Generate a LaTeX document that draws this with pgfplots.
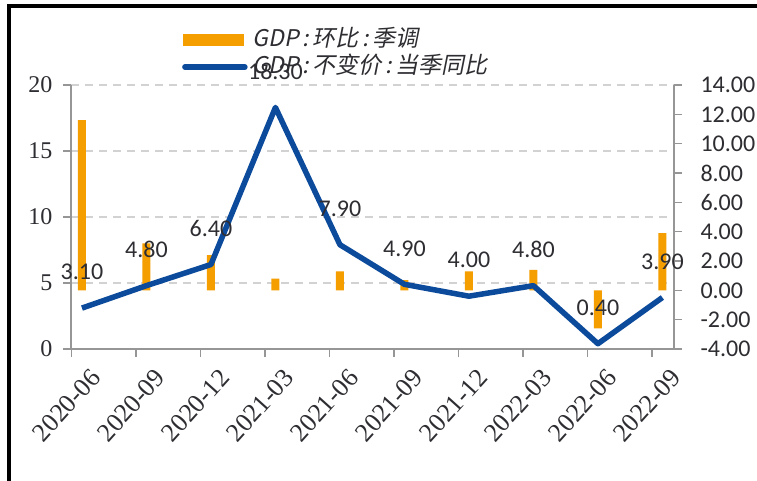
\documentclass[border=0pt]{standalone}
\usepackage{pgfplots}
\pgfplotsset{compat=1.18}
\usepackage{fontspec}
\setmainfont{Liberation Serif}
\newfontfamily\calibri{Carlito}
\newfontfamily\cjk[FakeSlant=0.2]{Noto Sans CJK SC}
\definecolor{barorange}{RGB}{245,158,0}
\definecolor{lineblue}{RGB}{12,74,156}
\definecolor{axgray}{RGB}{150,150,150}
\definecolor{gridgray}{RGB}{210,210,210}
\definecolor{txt}{RGB}{45,45,50}
\pgfplotsset{
  base/.style={at={(71bp,132bp)}, anchor=south west, scale only axis,
    width=603bp, height=264bp, xmin=-0.17, xmax=9.18,
    /pgf/number format/assume math mode=true},
}
\begin{document}
\begin{tikzpicture}
\useasboundingbox (0,0) rectangle (757bp,481bp);
\fill[white] (0,0) rectangle (757bp,481bp);
\draw[line width=3.5bp, black] (9bp,0) -- (9bp,475bp) -- (757bp,475bp);

% left-scale frame: grid, left axis, x axis
\begin{axis}[base, ymin=0, ymax=20,
  axis x line*=bottom, axis y line*=left,
  axis line style={axgray, line width=1.5bp, -},
  tick align=outside, major tick length=8bp, minor tick length=8bp,
  ytick={0,5,10,15,20},
  ytick style={axgray, line width=1.5bp},
  ymajorgrids, grid style={gridgray, line width=1.8bp, dash pattern=on 8bp off 6bp},
  xtick={0,...,9},
  xticklabels={2020-06,2020-09,2020-12,2021-03,2021-06,2021-09,2021-12,2022-03,2022-06,2022-09},
  major x tick style={draw=none},
  minor xtick={-0.16,0.84,1.84,2.84,3.84,4.84,5.84,6.84,7.84,8.84},
  minor x tick style={axgray, line width=1.5bp},
  xticklabel style={font=\fontsize{26bp}{30bp}\selectfont, text=txt, inner sep=0pt,
     xshift=7bp, yshift=-10bp, rotate=48, anchor=north east},
  yticklabel style={font=\fontsize{24bp}{28bp}\selectfont, text=txt, xshift=-7bp},
]
\end{axis}

% bars on the right scale
\begin{axis}[base, ymin=-4, ymax=14,
  axis x line=none, axis y line*=right,
  axis line style={axgray, line width=1.5bp, -},
  tick align=outside, major tick length=8bp,
  ytick={-4,-2,...,14},
  ytick style={axgray, line width=1.5bp},
  yticklabel style={font=\calibri\fontsize{24bp}{28bp}\selectfont, text=txt, xshift=15bp,
     /pgf/number format/.cd, fixed, fixed zerofill, precision=2},
]
\addplot[ybar, bar width=8bp, fill=barorange, draw=none] coordinates {
  (0,11.6) (1,3.2) (2,2.4) (3,0.8) (4,1.3) (5,0.7) (6,1.3) (7,1.4) (8,-2.6) (9,3.9)};
\end{axis}

% line on the left scale
\begin{axis}[base, ymin=0, ymax=20, hide axis, clip=false,
  legend style={at={(0.184,1.222)}, anchor=north west, draw=none, fill=none,
     inner sep=0pt, row sep=0pt,
     font=\cjk\fontsize{23bp}{26bp}\selectfont, text=txt,
     nodes={inner sep=1bp, text height=19bp, text depth=6bp},
     /tikz/every odd column/.append style={column sep=4bp}},
  legend cell align=left,
]
\addlegendimage{legend image code/.code={\fill[barorange] (0bp,-5.5bp) rectangle (60bp,5.5bp);}}
\addlegendentry{GDP\,:\,环比\,:\,季调}
\addplot[lineblue, line width=5.5bp, line join=round,
  legend image code/.code={\draw[lineblue, line width=5.5bp, line cap=round] (2bp,0bp) -- (62bp,0bp);},
  nodes near coords={\pgfmathprintnumber[fixed, fixed zerofill, precision=2]{\pgfplotspointmeta}},
  point meta=explicit symbolic,
  nodes near coords style={font=\calibri\fontsize{24bp}{28bp}\selectfont, text=txt, anchor=center, yshift=36bp},
] coordinates {
  (0,3.1) [3.1] (1,4.8) [4.8] (2,6.4) [6.4] (3,18.3) [18.3] (4,7.9) [7.9]
  (5,4.9) [4.9] (6,4.0) [4.0] (7,4.8) [4.8] (8,0.4) [0.4] (9,3.9) [3.9]};
\addlegendentry{GDP\,:\,不变价\,:\,当季同比}
\end{axis}
\end{tikzpicture}
\end{document}
